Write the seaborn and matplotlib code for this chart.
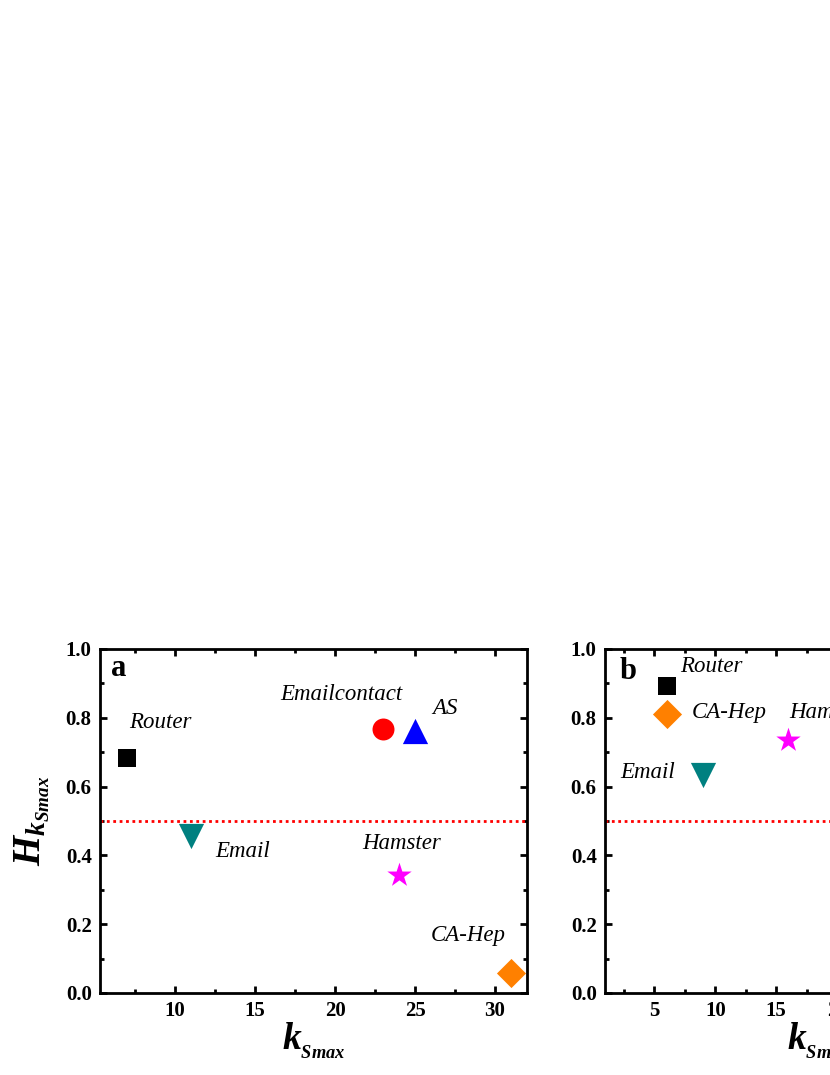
import matplotlib
matplotlib.use("Agg")
import matplotlib.pyplot as plt
from matplotlib.ticker import MultipleLocator
import seaborn as sns

# ---- data ----
names_a = ["Router", "Emailcontact", "AS", "Email", "Hamster", "CA-Hep"]
k_a = [7, 23, 25, 11, 24, 31]
h_a = [0.683, 0.768, 0.762, 0.455, 0.343, 0.058]

names_b = ["Router", "CA-Hep", "Email", "Hamster"]
k_b = [6, 6, 9, 16]
h_b = [0.893, 0.812, 0.635, 0.736]

threshold = 0.5
y_ticks = [0.0, 0.2, 0.4, 0.6, 0.8, 1.0]

# ---- styles ----
colors = {"Router": "#000000", "Emailcontact": "#FF0000", "AS": "#0000FF",
          "Email": "#008080", "Hamster": "#FF00FF", "CA-Hep": "#FF8000"}
markers = {"Router": "s", "Emailcontact": "o", "AS": "^",
           "Email": "v", "Hamster": "*", "CA-Hep": "D"}
msize = {"Router": 185, "Emailcontact": 250, "AS": 330,
         "Email": 330, "Hamster": 340, "CA-Hep": 220}

# label positions (left x, center y) in data coords
lab_a = {"Router": (7.15, 0.785), "Emailcontact": (16.6, 0.867), "AS": (26.1, 0.826),
         "Email": (12.5, 0.41), "Hamster": (21.7, 0.434), "CA-Hep": (26.0, 0.166)}
lab_b = {"Router": (7.1, 0.95), "CA-Hep": (8.1, 0.815), "Email": (2.2, 0.64),
         "Hamster": (16.1, 0.815)}

sns.set_theme(style="ticks")
plt.rcParams["font.family"] = ["Liberation Serif", "DejaVu Serif"]
plt.rcParams["mathtext.fontset"] = "custom"
plt.rcParams["mathtext.it"] = "Liberation Serif:italic:bold"
plt.rcParams["mathtext.rm"] = "Liberation Serif:bold"
plt.rcParams["mathtext.bf"] = "Liberation Serif:bold"
for key in ["text.color", "axes.labelcolor", "xtick.color", "ytick.color", "axes.edgecolor"]:
    plt.rcParams[key] = "black"

fig = plt.figure(figsize=(8.3, 10.75), dpi=100)
W = 0.5145
axa = fig.add_axes([0.1205, 0.0763, W, 0.3200])
axb = fig.add_axes([0.7290, 0.0763, W, 0.3200])


def style_axis(ax, xlim, xmajor):
    ax.set_xlim(*xlim)
    ax.set_ylim(0, 1.0)
    ax.set_yticks(y_ticks)
    ax.set_yticklabels([f"{v:.1f}" for v in y_ticks])
    ax.xaxis.set_major_locator(MultipleLocator(xmajor))
    ax.xaxis.set_minor_locator(MultipleLocator(xmajor / 2))
    ax.yaxis.set_minor_locator(MultipleLocator(0.1))
    ax.tick_params(which="both", direction="in", top=True, right=True,
                   labelsize=15, pad=6, colors="black")
    ax.tick_params(which="major", length=5, width=2)
    ax.tick_params(which="minor", length=3, width=2)
    for lab in ax.get_xticklabels() + ax.get_yticklabels():
        lab.set_fontweight("bold")
    for sp in ax.spines.values():
        sp.set_linewidth(2)
        sp.set_color("black")
    ax.axhline(threshold, color="#FF0000", linestyle=(0, (1, 1.3)), lw=2, zorder=1)
    ax.set_xlabel(r"$k_{_{Smax}}$", fontsize=27, labelpad=0)


def draw(ax, names, ks, hs, labs):
    for n, k, h in zip(names, ks, hs):
        sns.scatterplot(x=[k], y=[h], marker=markers[n], color=colors[n],
                        s=msize[n], linewidth=0, ax=ax, zorder=3, legend=False)
        lx, ly = labs[n]
        ax.text(lx, ly, n, fontsize=16.5, style="italic", ha="left", va="center")


style_axis(axa, (5.3, 32), 5)
draw(axa, names_a, k_a, h_a, lab_a)
axa.set_ylabel(r"$H_{k_{Smax}}$", fontsize=28, labelpad=10)
axa.text(6.0, 0.944, "a", fontsize=22, fontweight="bold", ha="left", va="center")

style_axis(axb, (0.95, 36), 5)
draw(axb, names_b, k_b, h_b, lab_b)
axb.set_ylabel("")
axb.text(2.1, 0.934, "b", fontsize=22, fontweight="bold", ha="left", va="center")

fig.savefig("out.png", dpi=100)
